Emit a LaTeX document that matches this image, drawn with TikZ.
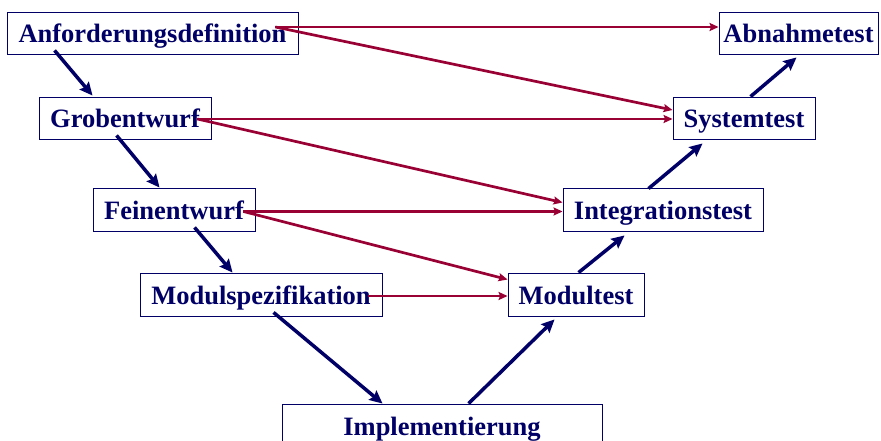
\documentclass[tikz,border=0pt]{standalone}
\usepackage{fontspec}
\setmainfont{Liberation Serif}
\usetikzlibrary{arrows.meta,calc}
\definecolor{phase}{RGB}{0,0,102}
\definecolor{testlink}{RGB}{153,0,51}
\begin{document}
\begin{tikzpicture}[x=1pt,y=-1pt,
  stage/.style={draw=phase,line width=0.9pt,fill=white,inner sep=0pt,
    text=phase,font=\fontsize{26.5}{30}\selectfont\bfseries,
    text height=20pt,text depth=0pt,minimum height=42pt},
  flow/.style={draw=phase,line width=3.5pt,
    -{Stealth[length=13pt,width=12pt,inset=2pt]}},
  verify/.style={draw=testlink,line width=2.7pt,
    -{Stealth[length=9pt,width=8pt,inset=1.5pt]}}]
\useasboundingbox (0,0) rectangle (881,441);
\clip (0,0) rectangle (881,441);

% left branch: specification phases
\node[stage,minimum width=291pt] (anf)   at (152.5,33)  {Anforderungsdefinition};
\node[stage,minimum width=172pt] (grob)  at (125,118)   {Grobentwurf};
\node[stage,minimum width=162pt,minimum height=43pt] (fein)  at (174,209.5) {Feinentwurf};
\node[stage,minimum width=242pt,minimum height=43pt] (modsp) at (261,294.5) {Modulspezifikation};
% bottom
\node[stage,minimum width=320pt] (impl)  at (442,425)   {Implementierung};
% right branch: test phases
\node[stage,minimum width=136pt,minimum height=43pt] (modt)  at (576,294.5) {Modultest};
\node[stage,minimum width=200pt,minimum height=43pt] (integ) at (663,209.5) {Integrationstest};
\node[stage,minimum width=142pt] (sys)   at (744,118)   {Systemtest};
\node[stage,minimum width=159pt] (abn)   at (798.5,33)  {Abnahmetest};

% development flow down and up the V
\draw[flow] ($(anf.south west)+(48,-4)$)   -- ($(grob.north west)+(54,-1)$);
\draw[flow] ($(grob.south west)+(78,-4)$)  -- ($(fein.north west)+(67,0)$);
\draw[flow] ($(fein.south west)+(102,-4)$) -- ($(modsp.north west)+(93,0)$);
\draw[flow] ($(modsp.south west)+(134,-4)$) -- ($(impl.north west)+(101,0)$);
\draw[flow] ($(impl.north west)+(187,0)$)  -- ($(modt.south west)+(47,3)$);
\draw[flow] ($(modt.north west)+(71,0)$)   -- ($(integ.south west)+(62,4)$);
\draw[flow] ($(integ.north west)+(86,1)$)  -- ($(sys.south west)+(30,4)$);
\draw[flow] ($(sys.north west)+(78,0)$)    -- ($(abn.south west)+(78,3)$);

% test cases derived from each specification phase
\coordinate (anfout)   at ($(anf.east)+(-23,-6)$);
\coordinate (grobout)  at ($(grob.east)+(-14,1)$);
\coordinate (feinout)  at ($(fein.east)+(-12,2)$);
\coordinate (modspout) at ($(modsp.east)+(-14,1.5)$);
\draw[verify] (anfout)   -- ($(abn.west)+(0,-6)$);
\draw[verify] (anfout)   -- ($(sys.west)+(0,-8)$);
\draw[verify] (grobout)  -- ($(sys.west)+(0,1)$);
\draw[verify] (grobout)  -- ($(integ.west)+(0,-7)$);
\draw[verify] (feinout)  -- ($(integ.west)+(0,2)$);
\draw[verify] (feinout)  -- ($(modt.west)+(0,-15)$);
\draw[verify] (modspout) -- ($(modt.west)+(0,1.5)$);
\end{tikzpicture}
\end{document}
